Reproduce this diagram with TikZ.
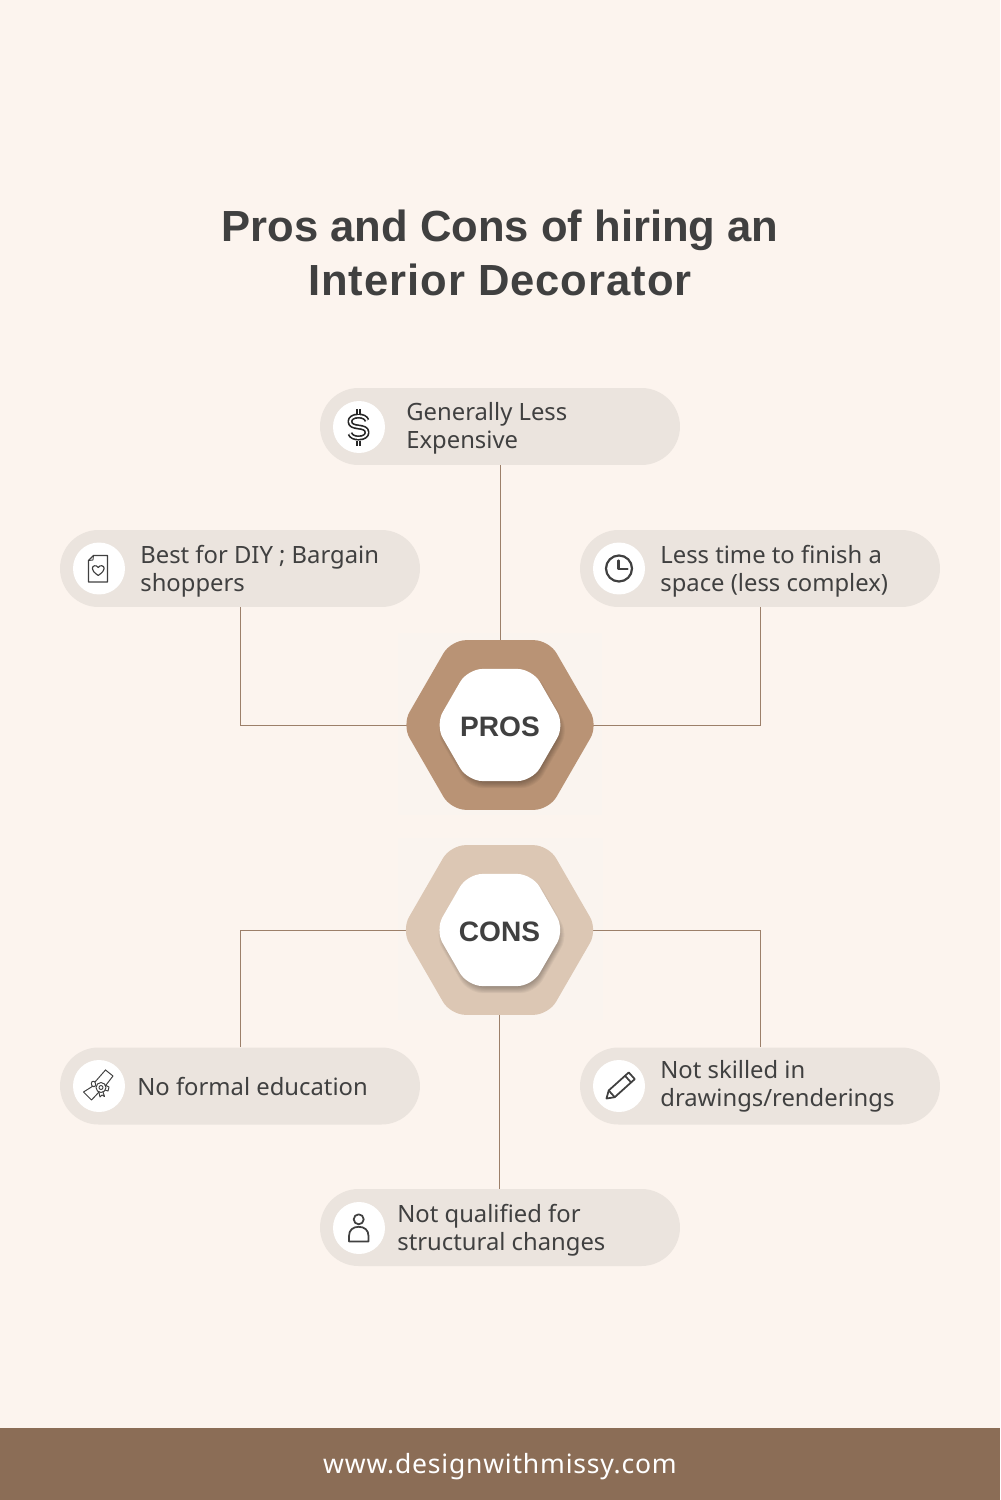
\documentclass[tikz,border=0pt]{standalone}
\usepackage{fontspec}
\setmainfont{Noto Sans}
\newfontfamily\spacedfont[LetterSpace=3]{Noto Sans}
\newfontfamily\headfont{Liberation Sans}
\newfontfamily\headwidefont[LetterSpace=2.2]{Liberation Sans}
\usetikzlibrary{shapes.geometric,backgrounds}
\definecolor{pagebg}{HTML}{FCF4EE}
\definecolor{squarebg}{HTML}{FAF4EF}
\definecolor{pillbg}{HTML}{EBE4DE}
\definecolor{hexdark}{HTML}{B99375}
\definecolor{hexlight}{HTML}{DCC7B4}
\definecolor{footbg}{HTML}{8B6D56}
\definecolor{linkc}{HTML}{9C7F69}
\definecolor{inkc}{HTML}{404040}
\tikzset{
  pill/.style={rectangle,fill=pillbg,minimum width=7.2cm,minimum height=1.54cm,rounded corners=0.77cm,inner sep=0pt},
  disc/.style={circle,fill=white,minimum size=1.04cm,inner sep=0pt},
  bodytext/.style={anchor=west,align=left,inner sep=0pt,text=inkc,font=\fontsize{13.55}{15.94}\selectfont},
  hexouter/.style={regular polygon,regular polygon sides=6,minimum size=3.92cm,rounded corners=0.3cm,inner sep=0pt},
  hexinner/.style={regular polygon,regular polygon sides=6,minimum size=2.59cm,rounded corners=0.3cm,inner sep=0pt,fill=white},
  hexlabel/.style={inner sep=0pt,anchor=base,text=inkc,font=\headfont\bfseries\fontsize{16}{20}\selectfont},
  hexshade/.style={regular polygon,regular polygon sides=6,rounded corners=0.3cm,inner sep=0pt,fill=black,fill opacity=0.04},
  link/.style={draw=linkc,line width=0.55pt},
  icon/.style={draw=inkc,line width=0.75pt,line join=round,line cap=round}
}
\begin{document}
\begin{tikzpicture}[x=0.02cm,y=-0.02cm]
\useasboundingbox (0,0) rectangle (1000,1500);

% Hexagons
\node[hexouter,fill=hexdark] (prosouter) at (500,725) {};
\foreach \s in {2.33,2.37,2.41,2.45,2.49,2.53,2.57,2.61,2.65,2.69}
  \node[hexshade,minimum size=\s cm] at (502,730) {};
\node[hexinner] (prosinner) at (500,725) {};
\node[hexlabel] (prostext) at (500,736) {PROS};

\node[hexouter,fill=hexlight] (consouter) at (499.5,930) {};
\foreach \s in {2.33,2.37,2.41,2.45,2.49,2.53,2.57,2.61,2.65,2.69}
  \node[hexshade,minimum size=\s cm] at (501.5,935) {};
\node[hexinner] (consinner) at (499.8,930) {};
\node[hexlabel] (constext) at (499.5,941) {CONS};

% Pills
\node[pill] (p1) at (500,426.5) {};
\node[pill] (p2) at (240,568.5) {};
\node[pill] (p3) at (760,568.5) {};
\node[pill] (c1) at (240,1086) {};
\node[pill] (c2) at (760,1086) {};
\node[pill] (c3) at (500,1227.5) {};

% Discs
\node[disc] (d1) at (359,427) {};
\node[disc] (d2) at (99,568.5) {};
\node[disc] (d3) at (619,568.5) {};
\node[disc] (d4) at (99,1086) {};
\node[disc] (d5) at (619,1086) {};
\node[disc] (d6) at (359,1228) {};

% Background, squares and connectors
\begin{scope}[on background layer]
  \fill[pagebg] (0,0) rectangle (1000,1500);
  \fill[squarebg] (398,633) rectangle (602,815);
  \fill[squarebg] (398,838) rectangle (603,1020);
  \draw[link] (p1.south) -- (prosouter.center);
  \draw[link] (prosouter.center) -| (p2.south);
  \draw[link] (prosouter.center) -| (p3.south);
  \draw[link] (consouter.center) -| (c1.north);
  \draw[link] (consouter.center) -| (c2.north);
  \draw[link] (consouter.center) -- (consouter.center |- c3.north);
\end{scope}

% Footer
\fill[footbg] (0,1428) rectangle (1000,1500);
\node[text=white,inner sep=0pt,anchor=base,font=\spacedfont\fontsize{15.1}{18}\selectfont] (foot) at (500,1473) {www.designwithmissy.com};

% Title
\node[text=inkc,inner sep=0pt,anchor=base,font=\headfont\bfseries\fontsize{24.8}{30}\selectfont] (t1) at (500,242) {Pros and Cons of hiring an};
\node[text=inkc,inner sep=0pt,anchor=base,font=\headwidefont\bfseries\fontsize{24.8}{30}\selectfont] (t2) at (500,296) {Interior Decorator};

% Texts
\node[bodytext] (tx1) at (406,428.5) {Generally Less\\Expensive};
\node[bodytext] (tx2) at (140,571) {Best for DIY ; Bargain\\shoppers};
\node[bodytext] (tx3) at (660,571) {Less time to finish a\\space (less complex)};
\node[bodytext] (tx4) at (137,1087) {No formal education};
\node[bodytext] (tx5) at (660,1086) {Not skilled in\\drawings/renderings};
\node[bodytext] (tx6) at (397,1230) {Not qualified for\\structural changes};

% Dollar icon
\begin{scope}[shift={(358.5,427)}]
  \draw[draw=black!85,line width=0.95pt,double=white,double distance=1pt,line cap=butt,line join=round]
    (8.5,-6.5) .. controls (7.5,-9.5) and (4,-11) .. (0,-11)
    .. controls (-5.5,-11) and (-8.5,-8.5) .. (-8.5,-5.5)
    .. controls (-8.5,-1.5) and (-4.5,-0.5) .. (0,0)
    .. controls (4.5,0.5) and (8.5,1.5) .. (8.5,5.5)
    .. controls (8.5,8.5) and (5.5,11) .. (0,11)
    .. controls (-4,11) and (-7.5,9.5) .. (-8.5,6.5);
  \draw[draw=black!85,line width=0.95pt,double=white,double distance=1pt,line cap=butt]
    (0,-13.5) -- (0,-18.5);
  \draw[draw=black!85,line width=0.95pt,double=white,double distance=1pt,line cap=butt]
    (0,13.5) -- (0,18.5);
\end{scope}

% Document with heart icon
\draw[icon,line width=0.7pt] (93.5,555.5) -- (107.5,555.5) -- (107.5,582) -- (88.5,582) -- (88.5,560.5) -- cycle;
\draw[icon,line width=0.5pt] (93.5,555.5) -- (93,560) -- (88.5,560.5);
\draw[icon,line width=0.65pt] (98.2,575.5) .. controls (94,572.5) and (92.3,570.5) .. (92.3,568.5)
  .. controls (92.3,565.5) and (96.5,564.5) .. (98.2,567.5)
  .. controls (100,564.5) and (104.2,565.5) .. (104.2,568.5)
  .. controls (104.2,570.5) and (102.4,572.5) .. (98.2,575.5) -- cycle;

% Clock icon
\draw[icon,line width=1.25pt] (619,568.5) circle[radius=13];
\draw[icon,line width=1.2pt] (618.5,560.5) -- (618.5,569) -- (627.5,569);

% Diploma icon
\begin{scope}[icon,line width=0.55pt]
  \draw (105.5,1070) -- (113,1076) -- (106,1085);
  \draw (105.5,1070) -- (95,1082);
  \draw (93,1086) -- (83.5,1092) -- (91.5,1100) -- (99,1092);
  \draw (95,1082) .. controls (93,1080) and (90,1082) .. (92,1086) .. controls (94,1088) and (97,1086) .. (95,1082);
  \draw (101,1087.5) circle[radius=5];
  \draw (101,1087.5) circle[radius=2];
  \draw (105,1085) -- (109,1087) -- (108,1091) -- (105,1090);
  \draw (99,1092.5) -- (100,1097) -- (102,1095) -- (104.5,1096.5) -- (103,1092);
\end{scope}

% Pencil icon
\begin{scope}[shift={(606.5,1098.5)},rotate=42,icon,line width=1pt]
  \draw (0,0) -- (7,-4.5) -- (34,-4.5) -- (34,4.5) -- (7,4.5) -- cycle;
  \draw (29,-4.5) -- (29,4.5);
  \draw (7,-4.5) -- (7,4.5);
\end{scope}

% Person icon
\draw[icon,line width=1pt] (358.7,1219.3) circle[radius=5];
\draw[icon,line width=1pt] (349,1241.5) -- (349,1236) .. controls (349,1230) and (353,1226.8) .. (358.7,1226.8)
  .. controls (364.4,1226.8) and (368.5,1230) .. (368.5,1236) -- (368.5,1241.5) -- cycle;
\end{tikzpicture}
\end{document}
